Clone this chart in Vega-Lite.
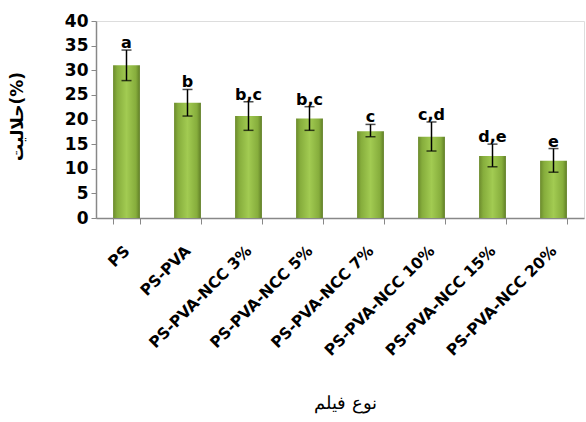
{
  "$schema": "https://vega.github.io/schema/vega-lite/v6.json",
  "width": 488,
  "height": 197,
  "autosize": {"type": "none"},
  "padding": {"left": 96, "top": 21, "right": 2, "bottom": 204},
  "background": "white",
  "config": {
    "axisY": {
      "labelOverlap": false,
      "grid": false,
      "titleFont": "DejaVu Sans",
      "titleFontWeight": "bold",
      "titleFontSize": 17,
      "titleColor": "black",
      "titleX": -70,
      "titleY": 95,
      "labelFont": "DejaVu Sans",
      "labelFontWeight": "bold",
      "labelFontSize": 17,
      "labelColor": "black",
      "labelPadding": 3,
      "tickColor": "#888888",
      "tickSize": 5,
      "domainColor": "#888888",
      "domainWidth": 1.5
    }
  },
  "data": {
    "values": [
      {"film": "PS", "value": 31.0, "lo": 27.9, "hi": 34.1, "label": "a"},
      {"film": "PS-PVA", "value": 23.4, "lo": 20.7, "hi": 26.1, "label": "b"},
      {"film": "PS-PVA-NCC 3%", "value": 20.7, "lo": 17.8, "hi": 23.6, "label": "b,c"},
      {"film": "PS-PVA-NCC 5%", "value": 20.2, "lo": 17.8, "hi": 22.6, "label": "b,c"},
      {"film": "PS-PVA-NCC 7%", "value": 17.6, "lo": 16.5, "hi": 19.0, "label": "c"},
      {"film": "PS-PVA-NCC 10%", "value": 16.5, "lo": 13.6, "hi": 19.5, "label": "c,d"},
      {"film": "PS-PVA-NCC 15%", "value": 12.6, "lo": 10.4, "hi": 15.0, "label": "d,e"},
      {"film": "PS-PVA-NCC 20%", "value": 11.6, "lo": 9.3, "hi": 14.1, "label": "e"}
    ]
  },
  "encoding": {
    "x": {
      "field": "film",
      "type": "nominal",
      "sort": null,
      "scale": {"paddingInner": 0.56, "paddingOuter": 0.28},
      "axis": {
        "title": "نوع فیلم",
        "titleFont": "DejaVu Serif",
        "titleFontWeight": "normal",
        "titleFontSize": 18,
        "titleColor": "black",
        "titleX": 249,
        "titleY": 185,
        "titleBaseline": "middle",
        "labelAngle": -45,
        "labelAlign": "right",
        "labelBaseline": "middle",
        "labelFont": "DejaVu Sans",
        "labelFontWeight": "bold",
        "labelFontSize": 15.5,
        "labelColor": "black",
        "labelPadding": 24,
        "labelLimit": 300,
        "labelOverlap": false,
        "tickBand": "extent",
        "tickColor": "#888888",
        "tickSize": 6,
        "domainColor": "#888888",
        "domainWidth": 1.5
      }
    }
  },
  "layer": [
    {
      "mark": {
        "type": "bar",
        "color": {
          "gradient": "linear",
          "x1": 0, "x2": 1, "y1": 0, "y2": 0,
          "stops": [
            {"offset": 0, "color": "#6b8a2c"},
            {"offset": 0.15, "color": "#86ad3c"},
            {"offset": 0.5, "color": "#a2cb52"},
            {"offset": 0.85, "color": "#86ad3c"},
            {"offset": 1, "color": "#5f7d26"}
          ]
        }
      },
      "encoding": {
        "y": {
          "field": "value",
          "type": "quantitative",
          "scale": {"domain": [0, 40]},
          "axis": {"title": "حلالیت(%)", "values": [0, 5, 10, 15, 20, 25, 30, 35, 40]}
        }
      }
    },
    {
      "mark": {"type": "rule", "color": "black", "strokeWidth": 1.5},
      "encoding": {
        "y": {"field": "lo", "type": "quantitative", "axis": {"title": "حلالیت(%)", "values": [0, 5, 10, 15, 20, 25, 30, 35, 40]}},
        "y2": {"field": "hi"}
      }
    },
    {
      "mark": {"type": "tick", "color": "black", "thickness": 1.5, "size": 10, "orient": "horizontal"},
      "encoding": {"y": {"field": "lo", "type": "quantitative", "axis": {"title": "حلالیت(%)", "values": [0, 5, 10, 15, 20, 25, 30, 35, 40]}}}
    },
    {
      "mark": {"type": "tick", "color": "black", "thickness": 1.5, "size": 10, "orient": "horizontal"},
      "encoding": {"y": {"field": "hi", "type": "quantitative", "axis": {"title": "حلالیت(%)", "values": [0, 5, 10, 15, 20, 25, 30, 35, 40]}}}
    },
    {
      "mark": {"type": "text", "font": "DejaVu Sans", "fontWeight": "bold", "fontSize": 16, "color": "black", "baseline": "alphabetic", "dy": -2},
      "encoding": {
        "y": {"field": "hi", "type": "quantitative", "axis": {"title": "حلالیت(%)", "values": [0, 5, 10, 15, 20, 25, 30, 35, 40]}},
        "text": {"field": "label"}
      }
    }
  ]
}
